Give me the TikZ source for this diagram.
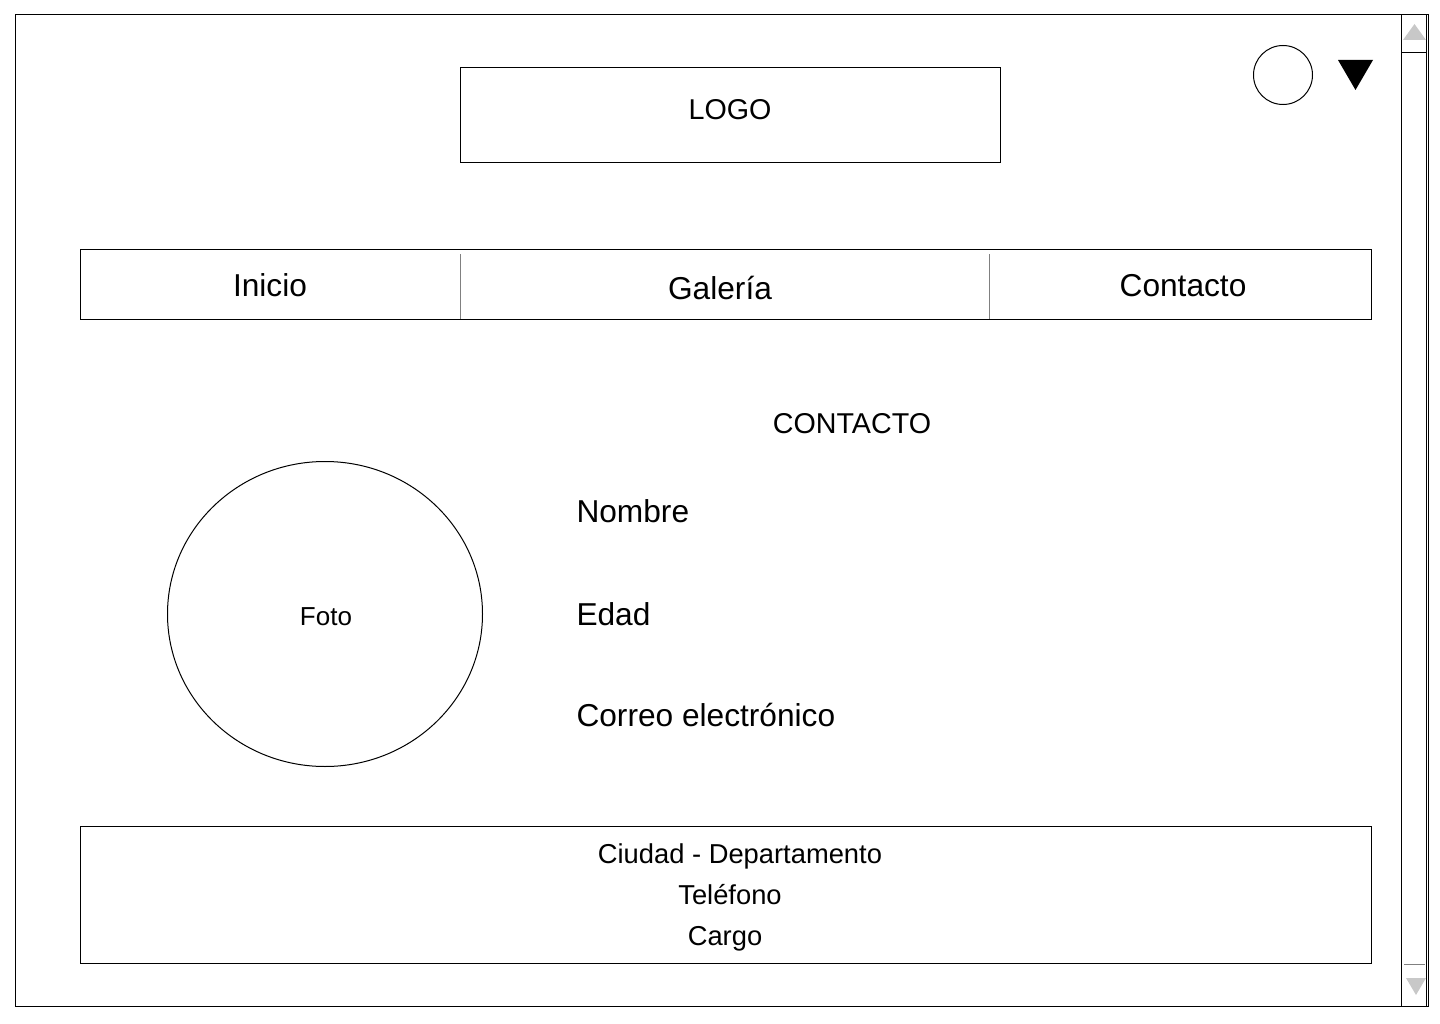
\documentclass[tikz,border=0pt]{standalone}
\usepackage{fontspec}
\setmainfont{Liberation Sans}
\usepackage{tikz}
\definecolor{sepgray}{HTML}{808080}
\definecolor{arrowgray}{HTML}{C8C8C8}

\begin{document}
\begin{tikzpicture}[x=0.75pt, y=-0.75pt, line width=0.75pt,
    big/.style={font=\fontsize{23.75}{28}\selectfont, inner sep=0pt},
    mid/.style={font=\fontsize{21.5}{25}\selectfont, inner sep=0pt},
    small/.style={font=\fontsize{20.5}{24}\selectfont, inner sep=0pt}]
\useasboundingbox (0,0) rectangle (1440,1024);

%% window and scroll bar
    \draw (15,15) rectangle (1428,1006);
    \draw (1401,15) rectangle (1426,1006);
    \draw (1401,53) -- (1426,53);
    \draw[sepgray] (1404,964) -- (1425,964);
    \fill[arrowgray] (1403,40) -- (1426,40) -- (1414.5,24) -- cycle;
    \fill[arrowgray] (1406,978) -- (1426,978) -- (1416,995) -- cycle;

%% user icon and menu
    \draw (1283,75) circle[radius=29.5];
    \fill (1338,60) -- (1373,60) -- (1355.5,90) -- cycle;

%% header
    \draw (460,68) rectangle (1000,162);
    \node[mid, anchor=base] (logo) at (730,119) {LOGO};

%%   kw   (name)   (x, y)   {text}
    \draw (80,249) rectangle (1371,319);
    \draw[sepgray] (460,254) -- (460,319);
    \draw[sepgray] (989,254) -- (989,319);
    \node[big, anchor=base] (inicio)   at (270,296)  {Inicio};
    \node[big, anchor=base] (galeria)  at (720,299)  {Galería};
    \node[big, anchor=base] (contacto) at (1183,296) {Contacto};

%% contact card
    \node[mid, anchor=base] (titulo) at (852,433) {CONTACTO};
    \draw (325,614) ellipse[x radius=157.5, y radius=152.5];
    \node[small, font=\fontsize{19.5}{23}\selectfont, anchor=base] (foto) at (326,625) {Foto};
    \node[big, anchor=base west] (nombre) at (576,522) {Nombre};
    \node[big, anchor=base west] (edad)   at (576,625) {Edad};
    \node[big, anchor=base west] (correo) at (576,726) {Correo electrónico};

%% footer
    \draw (80,826) rectangle (1371,963);
    \node[small, anchor=base] (ciudad)   at (740,863) {Ciudad - Departamento};
    \node[small, anchor=base] (telefono) at (730,904) {Teléfono};
    \node[small, anchor=base] (cargo)    at (725,945) {Cargo};
\end{tikzpicture}
\end{document}
